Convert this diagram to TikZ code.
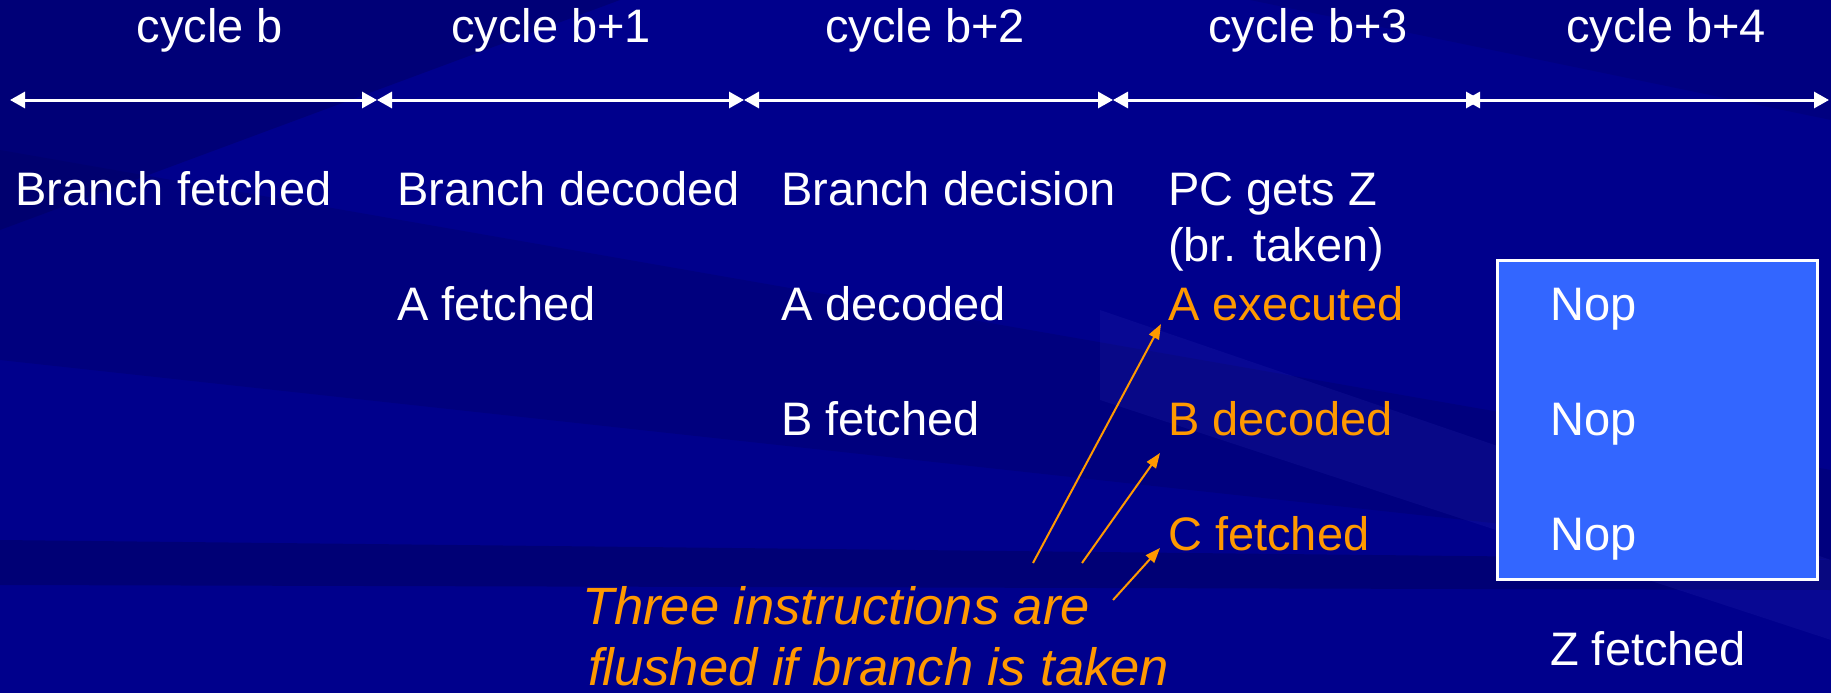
\documentclass[tikz,border=0pt]{standalone}
\usepackage{fontspec}
\setmainfont{Liberation Sans}
\usetikzlibrary{arrows.meta}
\definecolor{navy}{RGB}{0,0,140}
\definecolor{navydark}{RGB}{0,0,95}
\definecolor{navylight}{RGB}{40,40,175}
\definecolor{hot}{RGB}{255,153,0}
\definecolor{nopblue}{RGB}{51,102,255}
\tikzset{
  txt/.style={anchor=base west, inner sep=0pt, text=white, font=\fontsize{47}{56}\selectfont},
  hd/.style={txt, anchor=base},
  hottxt/.style={txt, text=hot},
  notetxt/.style={hottxt, font=\fontsize{52.5}{60}\selectfont\itshape},
  span/.style={draw=white, line width=3pt, {Triangle[length=15pt,width=16pt]}-{Triangle[length=15pt,width=16pt]}},
  flush/.style={draw=hot, line width=2pt, -{Triangle[length=15pt,width=11pt]}}
}

\begin{document}
\begin{tikzpicture}[x=1pt, y=-1pt]
			%%%%% BACKGROUND %%%%%
			\fill[navy] (0, 0) rectangle (1831, 693);
			\useasboundingbox (0, 0) rectangle (1831, 693);
			\fill[navydark, opacity=0.45] (0, 0) -- (620, 0) -- (0, 230) -- cycle;
			\fill[navydark, opacity=0.25] (900, 0) -- (1831, 0) -- (1831, 120) -- (1250, 0) -- cycle;
			\fill[navydark, opacity=0.3] (0, 150) -- (1831, 470) -- (1831, 560) -- (0, 360) -- cycle;
			\fill[navydark, opacity=0.5] (0, 540) -- (1831, 560) -- (1831, 590) -- (0, 585) -- cycle;
			\fill[navylight, opacity=0.2] (1100, 310) -- (1831, 560) -- (1831, 640) -- (1100, 400) -- cycle;
			
			%%%%% CYCLES %%%%%
			\node[hd] (cyc0) at (210, 43) {cycle b};
			\node[hd] (cyc1) at (551, 43) {cycle b+1};
			\node[hd] (cyc2) at (925, 43) {cycle b+2};
			\node[hd] (cyc3) at (1308, 43) {cycle b+3};
			\node[hd] (cyc4) at (1666, 43) {cycle b+4};
			
			\coordinate (t0) at (10, 100);
			\coordinate (t1) at (377, 100);
			\coordinate (t2) at (744, 100);
			\coordinate (t3) at (1113, 100);
			\coordinate (t4a) at (1481, 100);
			\coordinate (t4b) at (1465, 100);
			\coordinate (t5) at (1829, 100);
			\draw[span] (t0) -- (t1);
			\draw[span] (t1) -- (t2);
			\draw[span] (t2) -- (t3);
			\draw[span] (t3) -- (t4a);
			\draw[span] (t4b) -- (t5);
			
			%%%%% PIPELINE %%%%%
			\draw[white, line width=3pt, fill=nopblue] (1497, 260) rectangle (1817, 579);
			
			\node[txt] (brf) at (15, 205) {Branch fetched};
			\node[txt] (brd) at (397, 205) {Branch decoded};
			\node[txt] (brdec) at (781, 205) {Branch decision};
			\node[txt] (pcz) at (1168, 205) {PC gets Z};
			\node[txt] (taken) at (1168, 261) {(br. taken)};
			
			\node[txt] (af) at (397, 320) {A fetched};
			\node[txt] (ad) at (781, 320) {A decoded};
			\node[hottxt] (ax) at (1168, 320) {A executed};
			\node[txt] (nop1) at (1550, 320) {Nop};
			
			\node[txt] (bf) at (781, 435) {B fetched};
			\node[hottxt] (bd) at (1168, 435) {B decoded};
			\node[txt] (nop2) at (1550, 435) {Nop};
			
			\node[hottxt] (cf) at (1168, 550) {C fetched};
			\node[txt] (nop3) at (1550, 550) {Nop};
			
			\node[txt] (zf) at (1550, 665) {Z fetched};
			
			%%%%% FLUSH NOTE %%%%%
			\node[notetxt] (note1) at (582, 624) {Three instructions are};
			\node[notetxt] (note2) at (588, 685) {flushed if branch is taken};
			
			\coordinate (fa) at (1033, 563);
			\coordinate (fb) at (1082, 563);
			\coordinate (fc) at (1113, 600);
			\draw[flush] (fa) -- ([shift={(-7, 4)}]ax.base west);
			\draw[flush] (fb) -- ([shift={(-8, 18)}]bd.base west);
			\draw[flush] (fc) -- ([shift={(-8, -2)}]cf.base west);
		\end{tikzpicture}
\end{document}
